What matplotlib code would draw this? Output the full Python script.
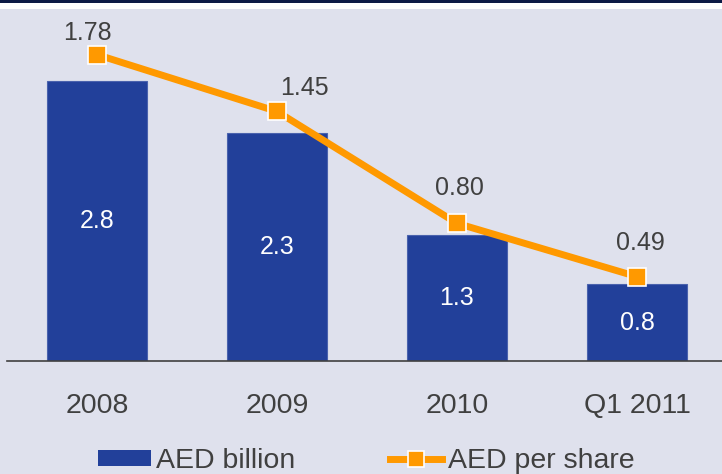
import matplotlib
matplotlib.use("Agg")
import matplotlib.pyplot as plt
from matplotlib.patches import Rectangle
from matplotlib.lines import Line2D
from matplotlib.patches import Patch

categories = ["2008", "2009", "2010", "Q1 2011"]
aed_billion = [2.80, 2.28, 1.26, 0.77]
aed_per_share = [1.78, 1.45, 0.80, 0.49]
share_labels = ["1.78", "1.45", "0.80", "0.49"]

# label offsets in pixels (dx, dy up)
label_offsets = [(-10, 22), (27, 23), (2, 35), (3, 34)]

BG = "#dfe1ed"
BAR = "#22409a"
ORANGE = "#ff9900"
TXT = "#404040"
FONT = ["Liberation Sans", "DejaVu Sans"]
plt.rcParams["font.family"] = FONT

W, H = 722, 474
fig = plt.figure(figsize=(W / 100, H / 100), dpi=100, facecolor=BG)

# top band
fig.patches.append(Rectangle((0, 1 - 9 / H), 1, 9 / H, transform=fig.transFigure,
                             facecolor="white", edgecolor="none", zorder=0))
fig.patches.append(Rectangle((0, 1 - 3 / H), 1, 3 / H, transform=fig.transFigure,
                             facecolor="#0c1a45", edgecolor="none", zorder=1))

left, right, top, bottom = 7, 722, 9, 361
ax = fig.add_axes([left / W, 1 - bottom / H, (right - left) / W, (bottom - top) / H])
ax.set_facecolor(BG)
ax.patch.set_alpha(0)
x = list(range(len(categories)))
ax.bar(x, aed_billion, width=100 / 180, color=BAR, edgecolor="#4a62ad", linewidth=0.8, zorder=2)
ax.set_xlim(-0.5, 3 + 85 / 180)
ax.set_ylim(0, (bottom - top) / 100)
for xi, v in zip(x, aed_billion):
    ax.text(xi, v / 2, f"{v:.1f}", ha="center", va="center", color="white", fontsize=18, zorder=3)

for s in ["top", "right", "left"]:
    ax.spines[s].set_visible(False)
ax.spines["bottom"].set_color("#404040")
ax.spines["bottom"].set_linewidth(1.2)
ax.set_yticks([])
ax.set_xticks(x)
ax.set_xticklabels(categories, fontsize=20.5, color=TXT)
ax.tick_params(axis="x", length=0, pad=23)

ax2 = ax.twinx()
ax2.set_ylim(0, (bottom - top) / 172.1)
ax2.axis("off")
ax2.plot(x, aed_per_share, color=ORANGE, linewidth=5, marker="s", markersize=12.5,
         markerfacecolor=ORANGE, markeredgecolor="white", markeredgewidth=1.2,
         solid_capstyle="butt", zorder=4)
for xi, v, lab, (dx, dy) in zip(x, aed_per_share, share_labels, label_offsets):
    ax2.annotate(lab, (xi, v), xytext=(dx * 0.72, dy * 0.72), textcoords="offset points",
                 ha="center", va="center", fontsize=18, color=TXT)

handles = [Patch(facecolor=BAR, edgecolor="none"),
           Line2D([0], [0], color=ORANGE, linewidth=5, marker="s", markersize=12,
                  markerfacecolor=ORANGE, markeredgecolor="white", markeredgewidth=1.2)]
leg = fig.legend(handles, ["AED billion", "AED per share"], loc="center left",
                 bbox_to_anchor=(98 / W, 1 - 461 / H), ncol=2, frameon=False,
                 fontsize=20.5, handlelength=1.85, handleheight=0.5, handletextpad=0.2,
                 columnspacing=3.3, borderpad=0, borderaxespad=0)
for t in leg.get_texts():
    t.set_color(TXT)

fig.savefig("out.png", dpi=100, facecolor=BG)
